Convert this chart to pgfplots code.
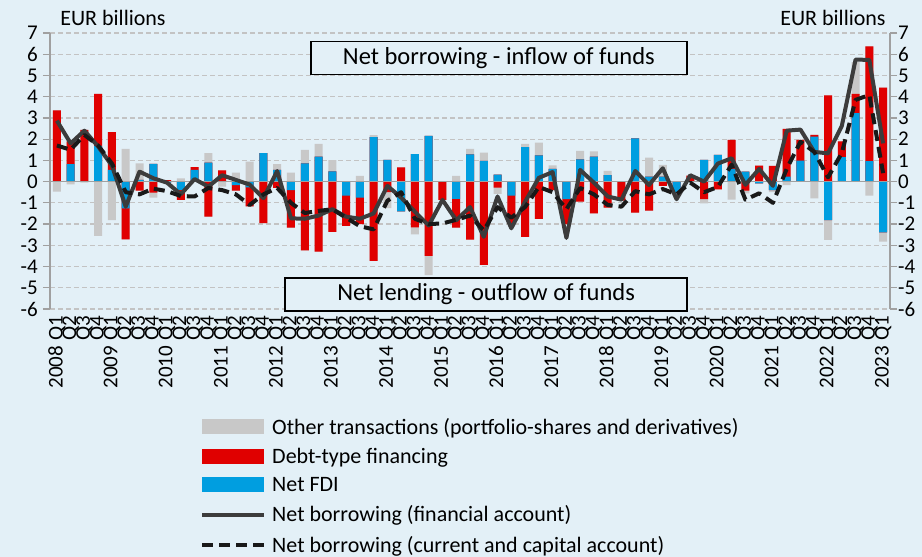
\documentclass[border=0pt]{standalone}
\usepackage{pgfplots}
\pgfplotsset{compat=1.18}
\usepackage{pgfplotstable}
\usepackage{fontspec}
\setmainfont{Carlito}
\definecolor{bg}{RGB}{227,240,247}
\definecolor{cOth}{RGB}{200,200,200}
\definecolor{cDebt}{RGB}{224,0,0}
\definecolor{cFdi}{RGB}{0,158,224}
\definecolor{cFin}{RGB}{60,60,60}
\definecolor{cCur}{RGB}{25,25,25}
\definecolor{cAx}{RGB}{160,160,160}
\definecolor{cGrid}{RGB}{195,195,195}
\newcommand{\tf}{\fontsize{21}{24}\selectfont}
\newcommand{\lf}{\fontsize{22}{25}\selectfont}

\pgfplotstableread{
x fdi debt oth fin cur
0 0 3.35 -0.47 2.87 1.70
1 0.82 1.07 -0.13 1.80 1.50
2 0 2.44 -0.05 2.40 2.20
3 1.68 2.45 -2.55 1.65 1.70
4 0.55 1.78 -1.81 0.75 0.85
5 -1.26 -1.46 1.54 -1.18 -0.50
6 0.08 -0.42 0.78 0.47 -0.60
7 0.83 -0.52 -0.23 0.16 -0.33
8 -0.05 0.07 0 -0.05 -0.45
9 -0.40 -0.46 0.15 -0.60 -0.68
10 0.55 0.13 0 0.12 -0.70
11 0.90 -1.65 0.44 -0.24 -0.30
12 0 0.53 -0.24 0.30 -0.40
13 -0.16 -0.26 0.42 0.08 -0.60
14 -0.27 -0.90 0.94 -0.14 -1.10
15 1.34 -1.96 0 -0.78 -0.60
16 0.55 -0.30 0.27 0.50 -0.30
17 -0.40 -1.77 0.42 -1.73 -1.00
18 0.86 -3.24 0.64 -1.75 -1.48
19 1.18 -3.30 0.60 -1.60 -1.38
20 0.48 -2.37 0.53 -1.30 -1.30
21 -0.66 -1.42 0 -1.65 -1.70
22 -0.75 -1.25 0.27 -1.75 -2.10
23 2.09 -3.73 0.10 -1.50 -2.25
24 1.02 -0.50 -0.75 -0.20 -0.90
25 -1.40 0.67 0 -0.75 -0.50
26 1.29 -2.16 -0.33 -1.42 -1.75
27 2.16 -3.50 -0.90 -2.07 -2.00
28 0 -0.86 0 -0.86 -1.97
29 -0.81 -1.36 0.27 -1.82 -1.80
30 1.28 -2.73 0.26 -1.20 -1.60
31 0.98 -3.92 0.39 -2.60 -2.30
32 0.33 -0.28 -0.30 -0.70 -1.20
33 -0.66 -1.31 0 -2.20 -1.70
34 1.62 -2.60 0.16 -0.95 -1.20
35 1.23 -1.75 0.61 0.18 -0.25
36 0.60 -0.40 0.17 0.45 -0.50
37 -0.82 -1.18 0 -2.65 -1.30
38 1.05 -0.94 0.40 0.55 -0.30
39 1.18 -1.50 0.24 -0.05 -0.60
40 0.31 -1.23 0.19 -0.70 -1.10
41 0 -0.90 0 -0.85 -1.18
42 2.04 -1.46 0 0.50 -0.45
43 0.24 -1.37 0.89 -0.16 -0.60
44 0.24 -0.20 0.55 0.63 -0.35
45 -0.55 0 0 -0.83 -0.60
46 0 0.28 0 0.30 -0.05
47 1.02 -0.82 -0.20 0 -0.50
48 1.26 -0.36 0 0.85 -0.25
49 0.60 1.37 -0.85 1.10 0.80
50 0.47 -0.42 -0.13 -0.15 -0.85
51 -0.08 0.75 0 0.60 -0.55
52 -0.40 0.74 -0.10 -0.20 -1.00
53 0.24 2.24 -0.16 2.40 0.60
54 0.99 0.98 0 2.45 1.88
55 2.12 0.08 -0.79 1.40 1.40
56 -1.81 4.06 -0.94 1.33 0.20
57 1.15 0.74 0 2.62 1.35
58 3.22 0.91 1.50 5.75 3.85
59 0.97 5.40 -0.66 5.73 4.08
60 -2.39 4.43 -0.44 1.80 0.40
}\data

\begin{document}
\begin{tikzpicture}
\fill[bg] (0,0) rectangle (922pt,557pt);
\useasboundingbox (0,0) rectangle (922pt,557pt);
\begin{axis}[
 at={(50pt,248pt)}, anchor=south west, scale only axis,
 width=840pt, height=276pt,
 xmin=-0.5, xmax=60.5, ymin=-6, ymax=7,
 axis x line*=bottom, axis y line*=left,
 x axis line style={draw=none},
 y axis line style={cAx, line width=1.2pt},
 ytick={-6,...,7},
 yticklabels={-6,-5,-4,-3,-2,-1,0,1,2,3,4,5,6,7},
 ymajorgrids,
 grid style={cGrid, dash pattern=on 5pt off 3pt, line width=1.2pt},
 ytick style={cAx, line width=1.2pt},
 tick align=outside, major tick length=7pt,
 xtick={0,...,60}, xtick style={draw=none},
 xticklabels={2008 Q1,Q2,Q3,Q4,2009 Q1,Q2,Q3,Q4,2010 Q1,Q2,Q3,Q4,2011 Q1,Q2,Q3,Q4,2012 Q1,Q2,Q3,Q4,2013 Q1,Q2,Q3,Q4,2014 Q1,Q2,Q3,Q4,2015 Q1,Q2,Q3,Q4,2016 Q1,Q2,Q3,Q4,2017 Q1,Q2,Q3,Q4,2018 Q1,Q2,Q3,Q4,2019 Q1,Q2,Q3,Q4,2020 Q1,Q2,Q3,Q4,2021 Q1,Q2,Q3,Q4,2022 Q1,Q2,Q3,Q4,2023 Q1},
 xticklabel style={font=\tf, inner sep=0pt, rotate=90, anchor=east},
 yticklabel style={font=\tf, inner sep=0pt, xshift=-5pt},
 clip=false,
 legend style={at={(0.1786,-0.387)}, anchor=north west, draw=none, fill=none,
   font=\lf, cells={anchor=west}, row sep=8.6pt, inner sep=0pt},
 legend cell align=left,
]
% positive stacks (outermost first)
\addplot[ybar, bar width=8pt, fill=cOth, draw=none,
  legend image code/.code={\fill[cOth] (0pt,-7pt) rectangle (62pt,8pt);\path (66pt,0pt);}]
  table[x=x, y expr={max(\thisrow{fdi},0)+max(\thisrow{debt},0)+max(\thisrow{oth},0)}] {\data};
\addlegendentry{Other transactions (portfolio-shares and derivatives)}
\addplot[ybar, bar width=8pt, fill=cDebt, draw=none,
  legend image code/.code={\fill[cDebt] (0pt,-7pt) rectangle (62pt,8pt);\path (66pt,0pt);}]
  table[x=x, y expr={max(\thisrow{fdi},0)+max(\thisrow{debt},0)}] {\data};
\addlegendentry{Debt-type financing}
\addplot[ybar, bar width=8pt, fill=cFdi, draw=none,
  legend image code/.code={\fill[cFdi] (0pt,-7pt) rectangle (62pt,8pt);\path (66pt,0pt);}]
  table[x=x, y expr={max(\thisrow{fdi},0)}] {\data};
\addlegendentry{Net FDI}
% negative stacks
\addplot[ybar, bar width=8pt, fill=cOth, draw=none, forget plot]
  table[x=x, y expr={min(\thisrow{fdi},0)+min(\thisrow{debt},0)+min(\thisrow{oth},0)}] {\data};
\addplot[ybar, bar width=8pt, fill=cDebt, draw=none, forget plot]
  table[x=x, y expr={min(\thisrow{fdi},0)+min(\thisrow{debt},0)}] {\data};
\addplot[ybar, bar width=8pt, fill=cFdi, draw=none, forget plot]
  table[x=x, y expr={min(\thisrow{fdi},0)}] {\data};
% zero line
\addplot[cAx, line width=1.5pt, forget plot] coordinates {(-0.5,0) (60.5,0)};
% lines
\addplot[cFin, line width=4pt, line join=round,
  legend image code/.code={\draw[cFin, line width=4pt] (0pt,0pt) -- (62pt,0pt);\path (66pt,0pt);}]
  table[x=x, y=fin] {\data};
\addlegendentry{Net borrowing (financial account)}
\addplot[cCur, line width=4pt, line join=round, dash pattern=on 11pt off 6pt,
  legend image code/.code={\draw[cCur, line width=4pt, dash pattern=on 11pt off 6pt] (0pt,0pt) -- (62pt,0pt);\path (66pt,0pt);}]
  table[x=x, y=cur] {\data};
\addlegendentry{Net borrowing (current and capital account)}
% annotation boxes
\draw[fill=bg, line width=1.3pt] (axis cs:18.45,6.59) rectangle (axis cs:45.76,5.03);
\node[font=\fontsize{24.5}{27}\selectfont] at (axis cs:32.1,5.81) {Net borrowing - inflow of funds};
\draw[fill=bg, line width=1.3pt] (axis cs:16.57,-4.54) rectangle (axis cs:45.76,-6.1);
\node[font=\fontsize{24.5}{27}\selectfont] at (axis cs:31.17,-5.32) {Net lending - outflow of funds};
\end{axis}
\begin{axis}[
 at={(50pt,248pt)}, anchor=south west, scale only axis,
 width=840pt, height=276pt,
 xmin=-0.5, xmax=60.5, ymin=-6, ymax=7,
 axis x line=none, axis y line*=right,
 y axis line style={cAx, line width=1.2pt},
 ytick={-6,...,7},
 yticklabels={-6,-5,-4,-3,-2,-1,0,1,2,3,4,5,6,7},
 ytick style={cAx, line width=1.2pt},
 tick align=outside, major tick length=7pt,
 yticklabel style={font=\tf, inner sep=0pt, xshift=1pt},
]
\addplot[draw=none, forget plot] coordinates {(0,0)};
\end{axis}
\node[font=\lf] at (113pt,539pt) {EUR billions};
\node[font=\lf] at (833pt,539pt) {EUR billions};
\end{tikzpicture}
\end{document}
